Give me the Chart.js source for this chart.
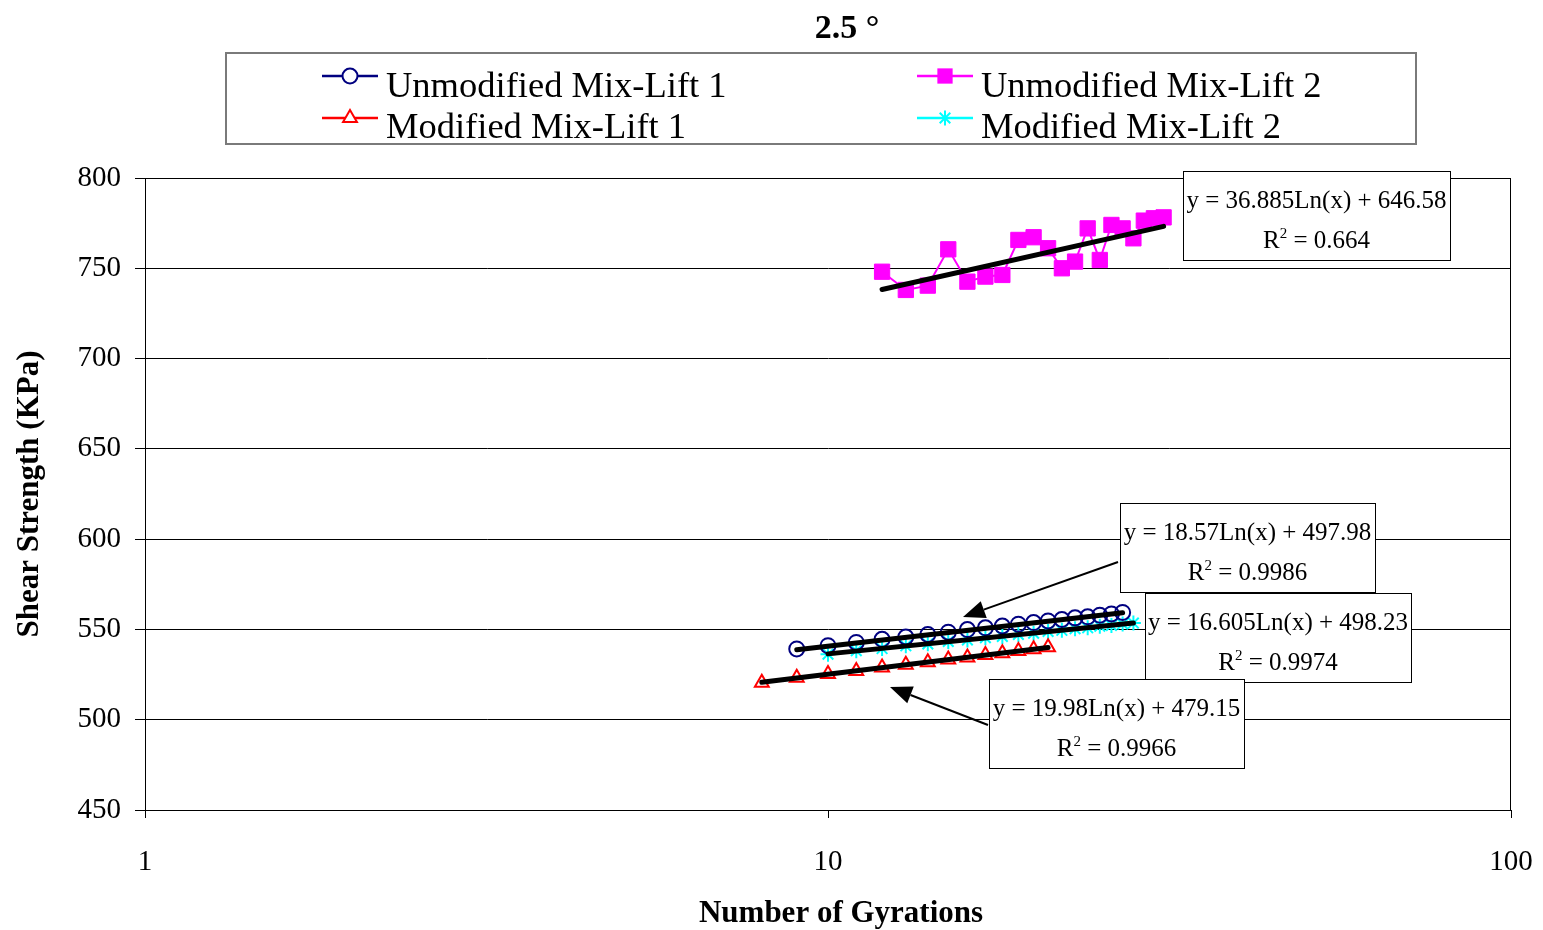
<!DOCTYPE html>
<html><head><meta charset="utf-8">
<script src="https://cdn.jsdelivr.net/npm/chart.js@4.4.1/dist/chart.umd.min.js"></script>
<style>html,body{margin:0;padding:0;background:#fff}#wrap{width:1543px;height:930px;position:relative}</style>
</head><body><div id="wrap"><canvas id="c" width="1543" height="930"></canvas></div>
<script>
// ---- texts ----
const chartTitle = '2.5 °';
const xAxisTitle = 'Number of Gyrations';
const yAxisTitle = 'Shear Strength (KPa)';
const seriesNames = ['Unmodified Mix-Lift 1', 'Unmodified Mix-Lift 2', 'Modified Mix-Lift 1', 'Modified Mix-Lift 2'];

// ---- axes ----
const xTickValues = [1, 10, 100];
const yMin = 450, yMax = 800, yStep = 50;

// ---- series data ----
const unmod1X = [9, 10, 11, 12, 13, 14, 15, 16, 17, 18, 19, 20, 21, 22, 23, 24, 25, 26, 27];
const unmod1Y = [539.2, 541.0, 542.8, 544.5, 545.8, 547.2, 548.5, 549.9, 550.9, 551.9, 552.9, 553.8, 554.7, 555.5, 556.4, 557.0, 557.9, 558.6, 559.4];

const unmod2X = [12, 13, 14, 15, 16, 17, 18, 19, 20, 21, 22, 23, 24, 25, 26, 27, 28, 29, 30, 31];
const unmod2Y = [748.1, 738.0, 740.4, 760.5, 742.6, 745.4, 746.3, 765.7, 767.2, 761.1, 750.0, 753.7, 772.1, 754.6, 774.0, 772.1, 766.6, 776.4, 777.7, 778.2];

const mod1X = [8, 9, 10, 11, 12, 13, 14, 15, 16, 17, 18, 19, 20, 21];
const mod1Y = [520.5, 523.2, 525.3, 527.0, 528.9, 530.5, 531.8, 533.4, 534.4, 535.9, 536.8, 538.1, 539.0, 540.1];

const mod2X = [10, 11, 12, 13, 14, 15, 16, 17, 18, 19, 20, 21, 22, 23, 24, 25, 26, 27, 28];
const mod2Y = [536.3, 538.2, 539.4, 540.9, 542.0, 543.3, 544.2, 545.4, 546.1, 547.2, 547.9, 548.9, 549.5, 550.4, 550.9, 551.8, 552.2, 553.0, 553.5];

// ---- logarithmic trendlines as printed on the chart: y = a Ln(x) + b ----
const trendA = [18.57, 36.885, 19.98, 16.605];
const trendB = [497.98, 646.58, 479.15, 498.23];
const trendAText = ['18.57', '36.885', '19.98', '16.605'];
const trendBText = ['497.98', '646.58', '479.15', '498.23'];
const trendR2Text = ['0.9986', '0.664', '0.9966', '0.9974'];

// ---------------------------------------------------------------
const FONT = "'Liberation Serif', 'Times New Roman', serif";
const seriesX = [unmod1X, unmod2X, mod1X, mod2X];
const seriesY = [unmod1Y, unmod2Y, mod1Y, mod2Y];
const pts = (xs, ys) => xs.map((x, i) => ({x: x, y: ys[i]}));

const styles = [
  {color: '#000080', pointStyle: 'circle', radius: 7.5, fill: 'rgba(0,0,0,0)', lw: 1.5, pbw: 2},
  {color: '#FF00FF', pointStyle: 'rect', radius: 10.8, fill: '#FF00FF', lw: 2, pbw: 1},
  {color: '#FF0000', pointStyle: 'triangle', radius: 8, fill: 'rgba(0,0,0,0)', lw: 1.5, pbw: 2},
  {color: '#00FFFF', pointStyle: 'star', radius: 7.5, fill: 'rgba(0,0,0,0)', lw: 1.5, pbw: 2}
];

const datasets = [];
seriesNames.forEach((name, i) => {
  const s = styles[i];
  datasets.push({
    label: name, data: pts(seriesX[i], seriesY[i]),
    borderColor: s.color, backgroundColor: s.color, borderWidth: s.lw,
    pointStyle: s.pointStyle, pointRadius: s.radius, pointHoverRadius: s.radius,
    pointBackgroundColor: s.fill, pointBorderColor: s.color, pointBorderWidth: s.pbw,
    tension: 0, order: 1
  });
});
seriesNames.forEach((name, i) => {
  const xs = seriesX[i];
  const x0 = Math.min(...xs), x1 = Math.max(...xs);
  datasets.push({
    label: name + ' trend',
    data: [{x: x0, y: trendA[i] * Math.log(x0) + trendB[i]}, {x: x1, y: trendA[i] * Math.log(x1) + trendB[i]}],
    borderColor: '#000', borderWidth: 5, pointRadius: 0, borderCapStyle: 'round', order: 0
  });
});

function drawMarker(ctx, style, x, y, r, color, fill, lw) {
  ctx.save();
  ctx.strokeStyle = color; ctx.fillStyle = fill; ctx.lineWidth = lw;
  ctx.beginPath();
  if (style === 'circle') {
    ctx.arc(x, y, r, 0, Math.PI * 2); ctx.fill(); ctx.stroke();
  } else if (style === 'rect') {
    const h = r * Math.SQRT1_2;
    ctx.rect(x - h, y - h, 2 * h, 2 * h); ctx.fill();
  } else if (style === 'triangle') {
    for (let k = 0; k < 3; k++) {
      const a = k * 2 * Math.PI / 3;
      const px = x + Math.sin(a) * r, py = y - Math.cos(a) * r;
      if (k === 0) ctx.moveTo(px, py); else ctx.lineTo(px, py);
    }
    ctx.closePath(); ctx.fill(); ctx.stroke();
  } else if (style === 'star') {
    const d = r * Math.SQRT1_2;
    ctx.moveTo(x - d, y - d); ctx.lineTo(x + d, y + d);
    ctx.moveTo(x - d, y + d); ctx.lineTo(x + d, y - d);
    ctx.moveTo(x, y - r); ctx.lineTo(x, y + r);
    ctx.stroke();
  }
  ctx.restore();
}

// annotation boxes (pixel placement of the equation labels)
const annotations = [
  {series: 1, left: 1183, top: 171, width: 267, height: 89, arrow: null},
  {series: 0, left: 1120, top: 503, width: 255, height: 89, arrow: [1118, 562, 963, 617]},
  {series: 3, left: 1145, top: 593, width: 266, height: 89, arrow: null},
  {series: 2, left: 989, top: 679, width: 255, height: 89, arrow: [988, 725, 890, 687]}
];

const decorPlugin = {
  id: 'decor',
  beforeDatasetsDraw(chart) {
    const {ctx, chartArea: a} = chart;
    ctx.save();
    ctx.strokeStyle = '#000'; ctx.lineWidth = 1;
    ctx.strokeRect(a.left + 0.5, a.top + 0.5, a.right - a.left - 1, a.bottom - a.top);
    ctx.restore();
  },
  afterDatasetsDraw(chart) {
    const {ctx} = chart;
    ctx.save();
    annotations.forEach(an => {
      const i = an.series;
      if (an.arrow) {
        const [x0, y0, x1, y1] = an.arrow;
        const ang = Math.atan2(y1 - y0, x1 - x0);
        const L = 22, W = 9;
        const bx = x1 - Math.cos(ang) * L, by = y1 - Math.sin(ang) * L;
        ctx.strokeStyle = '#000'; ctx.lineWidth = 2;
        ctx.beginPath(); ctx.moveTo(x0, y0); ctx.lineTo(bx, by); ctx.stroke();
        ctx.fillStyle = '#000';
        ctx.beginPath();
        ctx.moveTo(x1, y1);
        ctx.lineTo(bx + Math.sin(ang) * W, by - Math.cos(ang) * W);
        ctx.lineTo(bx - Math.sin(ang) * W, by + Math.cos(ang) * W);
        ctx.closePath(); ctx.fill();
      }
      ctx.fillStyle = '#fff';
      ctx.fillRect(an.left, an.top, an.width, an.height);
      ctx.strokeStyle = '#000'; ctx.lineWidth = 1;
      ctx.strokeRect(an.left + 0.5, an.top + 0.5, an.width, an.height);
      const cx = an.left + an.width / 2;
      ctx.fillStyle = '#000';
      ctx.textBaseline = 'alphabetic';
      ctx.font = '25px ' + FONT;
      ctx.textAlign = 'center';
      ctx.fillText('y = ' + trendAText[i] + 'Ln(x) + ' + trendBText[i], cx, an.top + 37);
      const rest = ' = ' + trendR2Text[i];
      ctx.font = '25px ' + FONT;
      const wR = ctx.measureText('R').width, wRest = ctx.measureText(rest).width;
      ctx.font = '15px ' + FONT;
      const w2 = ctx.measureText('2').width;
      const total = wR + w2 + wRest;
      let x = cx - total / 2;
      const base = an.top + 77;
      ctx.textAlign = 'left';
      ctx.font = '25px ' + FONT; ctx.fillText('R', x, base); x += wR;
      ctx.font = '15px ' + FONT; ctx.fillText('2', x, base - 10); x += w2;
      ctx.font = '25px ' + FONT; ctx.fillText(rest, x, base);
    });
    ctx.restore();
  },
  afterDraw(chart) {
    const {ctx} = chart;
    ctx.save();
    ctx.fillStyle = '#000';
    ctx.font = 'bold 34px ' + FONT;
    ctx.textAlign = 'center'; ctx.textBaseline = 'alphabetic';
    ctx.fillText(chartTitle, 847, 38);
    ctx.font = 'bold 31px ' + FONT;
    ctx.fillText(xAxisTitle, 841, 922);
    ctx.save();
    ctx.translate(38, 494); ctx.rotate(-Math.PI / 2);
    ctx.fillText(yAxisTitle, 0, 0);
    ctx.restore();
    // legend
    ctx.strokeStyle = '#7a7a7a'; ctx.lineWidth = 2;
    ctx.fillStyle = '#fff';
    ctx.fillRect(225, 52, 1191, 92);
    ctx.strokeRect(226, 53, 1190, 91);
    const colLine = [322, 917], colText = [386, 981], rowLine = [76, 118], rowBase = [97, 138];
    const order = [[0, 0, 0], [1, 1, 0], [2, 0, 1], [3, 1, 1]];
    order.forEach(([i, c, r]) => {
      const s = styles[i];
      ctx.strokeStyle = s.color; ctx.lineWidth = 2.5;
      ctx.beginPath(); ctx.moveTo(colLine[c], rowLine[r]); ctx.lineTo(colLine[c] + 56, rowLine[r]); ctx.stroke();
      drawMarker(ctx, s.pointStyle, colLine[c] + 28, rowLine[r], s.radius,
        s.color, s.pointStyle === 'rect' ? s.color : '#fff', s.pbw === 1 ? 2 : s.pbw);
      ctx.fillStyle = '#000';
      ctx.font = '36.5px ' + FONT; ctx.textAlign = 'left';
      ctx.fillText(seriesNames[i], colText[c], rowBase[r]);
    });
    ctx.restore();
  }
};

new Chart(document.getElementById('c'), {
  type: 'line',
  data: {datasets: datasets},
  options: {
    responsive: false, animation: false,
    layout: {padding: {top: 178, right: 32, bottom: 0, left: 0}},
    plugins: {legend: {display: false}, title: {display: false}, tooltip: {enabled: false}},
    scales: {
      x: {
        type: 'logarithmic', min: 1, max: 100,
        afterFit: s => { s.height = 120; s.paddingLeft = 0; s.paddingRight = 0; },
        afterBuildTicks: s => { s.ticks = xTickValues.map(v => ({value: v, major: true})); },
        ticks: {color: '#000', font: {family: FONT, size: 29}, padding: 27, maxRotation: 0, autoSkip: false,
          callback: v => String(v)},
        grid: {display: true, drawOnChartArea: false, drawTicks: true, tickLength: 8, color: '#000', lineWidth: 1},
        border: {display: true, color: '#000', width: 1}
      },
      y: {
        type: 'linear', min: yMin, max: yMax,
        afterFit: s => { s.width = 145; s.paddingTop = 0; s.paddingBottom = 0; },
        ticks: {stepSize: yStep, color: '#000', font: {family: FONT, size: 29}, padding: 14},
        grid: {color: '#000', lineWidth: 1, tickLength: 10, drawTicks: true},
        border: {display: true, color: '#000', width: 1}
      }
    }
  },
  plugins: [decorPlugin]
});
</script>
</body></html>
